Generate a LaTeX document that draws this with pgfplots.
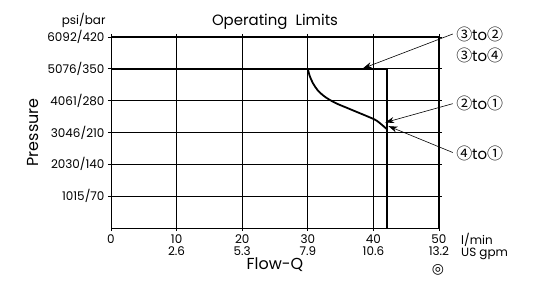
\documentclass[border=0pt]{standalone}
\usepackage{fontspec}
\setmainfont{Poppins}
\newfontfamily\symfont{DejaVu Sans}
\newfontfamily\cjk{Noto Sans CJK SC}
\usepackage{pgfplots}
\pgfplotsset{compat=1.18}
\usetikzlibrary{arrows.meta}
\newcommand{\cn}[1]{{\cjk\fontsize{16}{16}\selectfont #1}}
\begin{document}
\begin{tikzpicture}
\begin{axis}[
  name=ax,
  scale only axis,
  width=328bp, height=191bp,
  xmin=0, xmax=50, ymin=0, ymax=420,
  xtick={0,10,20,30,40,50},
  xticklabels={0,{10\\2.6},{20\\5.3},{30\\7.9},{40\\10.6},{50\\13.2}},
  ytick={70,140,210,280,350,420},
  yticklabels={1015/70,2030/140,3046/210,4061/280,5076/350,6092/420},
  xticklabel style={align=center, font=\fontsize{12}{12.5}\selectfont, text depth=0pt},
  yticklabel style={font=\fontsize{12}{13}\selectfont},
  tick align=outside,
  major tick length=3bp,
  tick style={black, line width=0.8pt},
  grid=major,
  major grid style={black, line width=0.8pt},
  axis line style={black, line width=1pt},
  clip=false,
  title={Operating\ \ Limits},
  title style={font=\fontsize{15}{16}\selectfont, yshift=-2bp},
  xlabel={Flow-Q},
  xlabel style={font=\fontsize{16}{17}\selectfont, yshift=5bp},
  ylabel={Pressure},
  ylabel style={font=\fontsize{16}{17}\selectfont, yshift=2bp},
]
\addplot[black, line width=2pt] coordinates {(0,350) (42,350) (42,0)};
\addplot[black, line width=1.8pt, smooth] coordinates {
 (30,350) (30.3,334) (30.8,318) (31.5,303) (32.3,292) (33.3,282) (34.5,273)
 (36,264) (37.5,255) (39,246) (40.5,236) (42,218)};
\draw[line width=0.6pt, -{Stealth[length=9bp,width=6bp]}] (axis cs:52.1,426.6) -- (axis cs:38.4,351);
\draw[line width=0.6pt, -{Stealth[length=9bp,width=6bp]}] (axis cs:52.1,273.4) -- (axis cs:41.8,232);
\draw[line width=0.6pt, -{Stealth[length=9bp,width=6bp]}] (axis cs:52.1,166) -- (axis cs:42.3,224);
\node[anchor=west, inner sep=0pt, font=\fontsize{15}{16}\selectfont] at (axis cs:52.6,426.6) {\cn{③}to\cn{②}};
\node[anchor=west, inner sep=0pt, font=\fontsize{15}{16}\selectfont] at (axis cs:52.6,378.4) {\cn{③}to\cn{④}};
\node[anchor=west, inner sep=0pt, font=\fontsize{15}{16}\selectfont] at (axis cs:52.6,273.4) {\cn{②}to\cn{①}};
\node[anchor=west, inner sep=0pt, font=\fontsize{15}{16}\selectfont] at (axis cs:52.6,164) {\cn{④}to\cn{①}};
\end{axis}
\node[anchor=east, font=\fontsize{12}{13}\selectfont] at ([xshift=-2bp,yshift=17bp]ax.north west) {psi/bar};
\node[anchor=west, inner sep=0pt, font=\fontsize{12}{13}\selectfont] at ([xshift=22bp,yshift=-12bp]ax.south east) {l/min};
\node[anchor=west, inner sep=0pt, font=\fontsize{12}{13}\selectfont] at ([xshift=22bp,yshift=-26bp]ax.south east) {US gpm};
\node[font=\fontsize{14}{14}\selectfont\symfont, inner sep=0pt] at ([xshift=-1bp,yshift=-42bp]ax.south east) {◎};
\path ([xshift=-111bp,yshift=-61bp]ax.south west) rectangle ++(550bp,289bp);
\end{tikzpicture}
\end{document}
